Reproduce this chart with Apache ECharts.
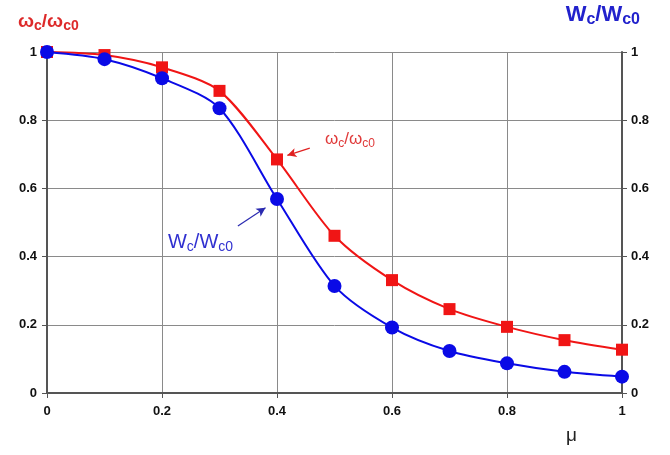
<!DOCTYPE html>
<html>
<head>
<meta charset="utf-8">
<script src="https://cdn.jsdelivr.net/npm/echarts@6/dist/echarts.min.js"></script>
<style>html,body{margin:0;padding:0;background:#fff}#c{width:670px;height:455px}</style>
</head>
<body>
<div id="c"></div>
<script>
const mu = [0, 0.1, 0.2, 0.3, 0.4, 0.5, 0.6, 0.7, 0.8, 0.9, 1.0];
const omegaRatio = [1.0, 0.991, 0.955, 0.886, 0.685, 0.461, 0.331, 0.246, 0.194, 0.155, 0.127];
const wRatio = [1.0, 0.979, 0.923, 0.835, 0.569, 0.314, 0.192, 0.123, 0.087, 0.062, 0.048];
const yTicks = [0, 0.2, 0.4, 0.6, 0.8, 1];
const xTicks = [0, 0.2, 0.4, 0.6, 0.8, 1];

const RED = '#f01515';
const BLUE = '#0a0ae6';
const redTitle = '#dd2a2a';
const blueTitle = '#2222cc';

function pairs(xs, ys) { return xs.map((x, i) => [x, ys[i]]); }

const fmt = v => String(Math.round(v * 10) / 10);

const chart = echarts.init(document.getElementById('c'), null, { renderer: 'canvas' });

const axisLabelStyle = { color: '#111', fontFamily: 'Liberation Sans, Arial', fontWeight: 'bold', fontSize: 13 };

function subRich(color, size, weight, subDrop) {
  return {
    a: { color: color, fill: color, fontSize: size, fontWeight: weight, fontFamily: 'Liberation Sans, Arial' },
    s: { color: color, fill: color, fontSize: Math.round(size * 0.72), fontWeight: weight, fontFamily: 'Liberation Sans, Arial', verticalAlign: 'bottom', padding: [Math.round(size * (subDrop || 0.5)), 0, 0, 0] }
  };
}

chart.setOption({
  animation: false,
  backgroundColor: '#fff',
  grid: { left: 47, right: 48, top: 52, bottom: 62 },
  xAxis: {
    type: 'value', min: 0, max: 1, interval: 0.2,
    axisLine: { show: true, onZero: false, lineStyle: { color: '#555', width: 2 } },
    axisTick: { show: true, inside: false, length: 5, lineStyle: { color: '#555', width: 1 } },
    axisLabel: Object.assign({ margin: 12, formatter: v => fmt(v) }, axisLabelStyle),
    splitLine: { show: true, lineStyle: { color: '#8a8a8a', width: 1 } }
  },
  yAxis: [{
    type: 'value', min: 0, max: 1, interval: 0.2, position: 'left',
    axisLine: { show: true, onZero: false, lineStyle: { color: '#555', width: 2 } },
    axisTick: { show: true, inside: false, length: 5, lineStyle: { color: '#555', width: 1 } },
    axisLabel: Object.assign({ margin: 10, formatter: v => fmt(v) }, axisLabelStyle),
    splitLine: { show: true, lineStyle: { color: '#8a8a8a', width: 1 } }
  }, {
    type: 'value', min: 0, max: 1, interval: 0.2, position: 'right',
    axisLine: { show: true, onZero: false, lineStyle: { color: '#555', width: 2 } },
    axisTick: { show: true, inside: false, length: 5, lineStyle: { color: '#555', width: 1 } },
    axisLabel: Object.assign({ margin: 9, formatter: v => fmt(v) }, axisLabelStyle),
    splitLine: { show: false }
  }],
  series: [{
    name: 'omega', type: 'line', yAxisIndex: 0,
    data: pairs(mu, omegaRatio),
    smooth: 0.28,
    symbol: 'rect', symbolSize: 12,
    lineStyle: { color: RED, width: 2 },
    itemStyle: { color: RED },
    z: 3,
    markLine: {
      silent: true, symbol: ['none', 'arrow'], symbolSize: [7, 9],
      lineStyle: { color: '#e02020', width: 1.2, type: 'solid' },
      label: { show: false },
      data: [[{ coord: [0.457, 0.718] }, { coord: [0.418, 0.697] }]]
    },
    markPoint: {
      silent: true, symbol: 'circle', symbolSize: 0,
      data: [{
        coord: [0.527, 0.744],
        label: {
          show: true, position: 'inside',
          formatter: '{a|ω}{s|c}{a|/ω}{s|c0}',
          rich: subRich('#e03a3a', 17, 'normal', 0.45)
        }
      }]
    }
  }, {
    name: 'W', type: 'line', yAxisIndex: 0,
    data: pairs(mu, wRatio),
    smooth: 0.28,
    symbol: 'circle', symbolSize: 14,
    lineStyle: { color: BLUE, width: 2 },
    itemStyle: { color: BLUE },
    z: 4,
    markLine: {
      silent: true, symbol: ['none', 'arrow'], symbolSize: [7, 9],
      lineStyle: { color: '#2a2ab0', width: 1.2, type: 'solid' },
      label: { show: false },
      data: [[{ coord: [0.332, 0.490] }, { coord: [0.380, 0.543] }]]
    },
    markPoint: {
      silent: true, symbol: 'circle', symbolSize: 0,
      data: [{
        coord: [0.267, 0.44],
        label: {
          show: true, position: 'inside',
          formatter: '{a|W}{s|c}{a|/W}{s|c0}',
          rich: subRich('#3030d0', 20, 'normal', 0.45)
        }
      }]
    }
  }],
  graphic: [{
    type: 'text', left: 18, top: 12,
    style: {
      text: '{a|ω}{s|c}{a|/ω}{s|c0}',
      fill: redTitle,
      rich: subRich(redTitle, 19, 'bold', 0.45)
    }
  }, {
    type: 'text', right: 30, top: 4,
    style: {
      text: '{a|W}{s|c}{a|/W}{s|c0}',
      fill: blueTitle,
      rich: subRich(blueTitle, 22, 'bold', 0.45)
    }
  }, {
    type: 'text', left: 566, top: 426,
    style: { text: 'μ', fill: '#222', font: '19px "Liberation Sans", Arial' }
  }]
});
</script>
</body>
</html>
